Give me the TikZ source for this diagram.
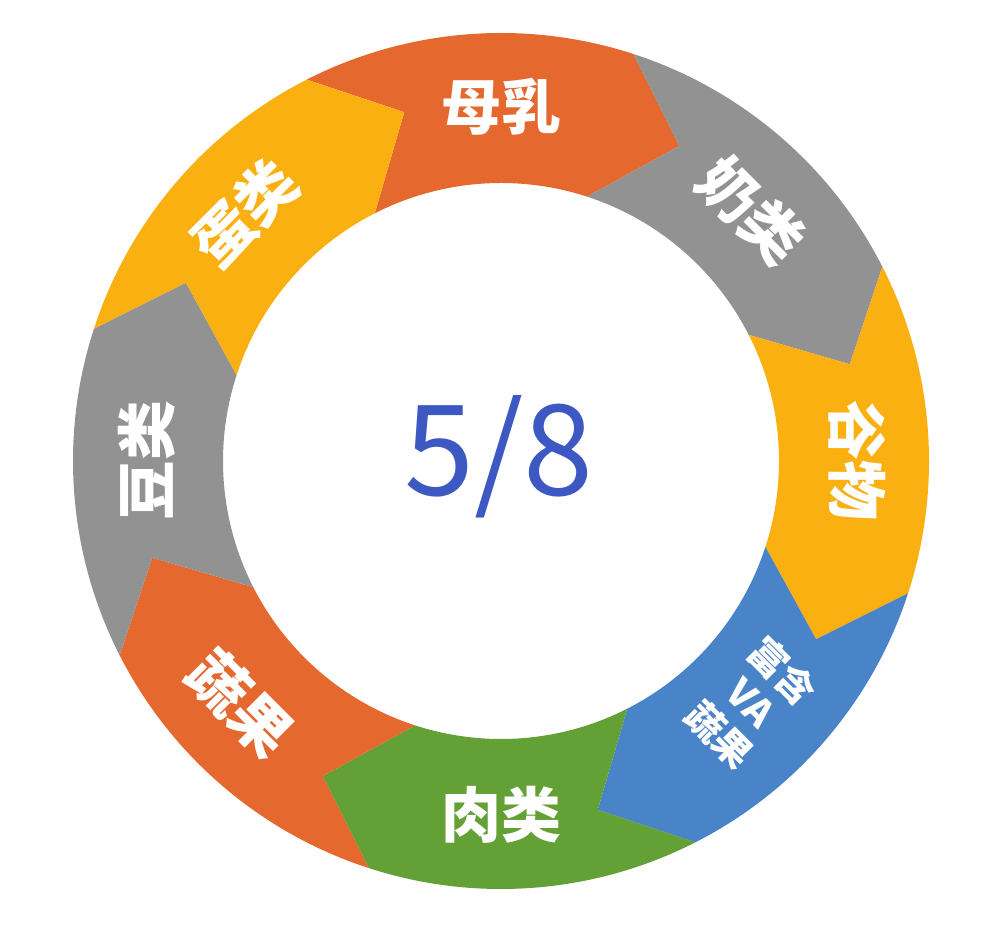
\documentclass[tikz,border=0pt]{standalone}
\usepackage{fontspec}
\newfontfamily\cjk{Noto Sans CJK SC}
\definecolor{segorange}{HTML}{E5692F}
\definecolor{seggray}{HTML}{929292}
\definecolor{segyellow}{HTML}{FAB011}
\definecolor{segblue}{HTML}{4A84C8}
\definecolor{seggreen}{HTML}{63A137}
\definecolor{numblue}{HTML}{3D58C2}
\newcommand\ringseg[2]{%
  \fill[#2] (#1:428) arc[start angle=#1, end angle=#1-45, radius=428]
    -- (#1-56.5:362) -- (#1-45:278)
    arc[start angle=#1-45, end angle=#1, radius=278]
    -- (#1-11.5:362) -- cycle;}
\tikzset{
  lab/.style={text=white, inner sep=0pt, font=\cjk\bfseries\fontsize{30}{30}\selectfont},
  smalllab/.style={text=white, inner sep=0pt, align=center, font=\cjk\bfseries\fontsize{19}{22.5}\selectfont},
}
\begin{document}
\begin{tikzpicture}[x=0.5pt,y=0.5pt]
\useasboundingbox (0,0) rectangle (1000,926);
\fill[white] (0,0) rectangle (1000,926);
\begin{scope}[shift={(501,465)}]
  \ringseg{117}{segorange}
  \ringseg{72}{seggray}
  \ringseg{27}{segyellow}
  \ringseg{-18}{segblue}
  \ringseg{-63}{seggreen}
  \ringseg{-108}{segorange}
  \ringseg{207}{seggray}
  \ringseg{162}{segyellow}
  \node[lab] (muru) at (90:354) {母乳};
  \node[lab, rotate=-45] (nailei) at (45:354) {奶类};
  \node[lab, rotate=-90] (guwu) at (0:356) {谷物};
  \node[smalllab, rotate=-45] (vaguo) at (-44:348) {富含\\VA\\蔬果};
  \node[lab] (roulei) at (-90:354) {肉类};
  \node[lab, rotate=-45] (shuguo) at (-137:356) {蔬果};
  \node[lab, rotate=90] (doulei) at (180:354) {豆类};
  \node[lab, rotate=45] (danlei) at (136:356) {蛋类};
  \node[text=numblue, inner sep=0pt, font=\cjk\fontsize{63}{63}\selectfont] (frac) at (-2,4) {5/8};
\end{scope}
\end{tikzpicture}
\end{document}
